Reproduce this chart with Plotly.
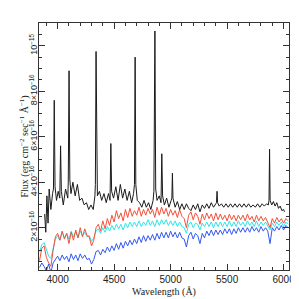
import plotly.graph_objects as go

# common wavelength grid (Angstrom) for the three continuum spectra
wl = list(range(3840, 6041, 20))

# fluxes in units of 1e-16 erg cm^-2 s^-1 A^-1
red_flux = [
    0.55, 1.1, 1.2, 0.7, 0.45, 0.3, 1.0, 1.6, 1.75, 1.45,
    1.85, 1.5, 1.75, 1.3, 1.8, 1.45, 1.9, 1.55, 2.0, 1.6,
    1.95, 1.65, 1.6, 1.2, 1.45, 2.0, 2.15, 1.85, 2.3, 1.95,
    2.4, 2.1, 2.55, 2.25, 2.75, 2.4, 2.65, 2.3, 2.8, 2.45,
    2.85, 2.5, 2.75, 2.55, 2.9, 2.5, 2.8, 2.55, 2.85, 2.6,
    2.8, 2.45, 2.9, 2.55, 2.9, 2.6, 2.85, 2.5, 2.8, 2.55,
    2.75, 2.45, 2.8, 2.5, 2.4, 2.0, 2.55, 2.7, 2.35, 2.65,
    2.5, 2.15, 2.6, 2.35, 2.65, 2.4, 2.6, 2.3, 2.65, 2.35,
    2.6, 2.35, 2.55, 2.3, 2.6, 2.35, 2.55, 2.3, 2.55, 2.35,
    2.55, 2.3, 2.6, 2.35, 2.5, 2.25, 2.55, 2.3, 2.5, 2.3,
    2.45, 2.25, 2.0, 2.4, 2.2, 2.45, 2.25, 2.4, 2.2, 2.4,
    2.3,
]

cyan_flux = [
    0.95, 1.25, 1.35, 1.0, 0.75, 0.65, 1.15, 1.5, 1.65, 1.45,
    1.8, 1.55, 1.75, 1.5, 1.85, 1.6, 1.8, 1.55, 1.85, 1.65,
    1.8, 1.6, 1.65, 1.4, 1.55, 1.85, 1.95, 1.75, 2.0, 1.8,
    2.05, 1.85, 2.1, 1.9, 2.15, 1.95, 2.15, 1.9, 2.2, 2.0,
    2.25, 2.05, 2.25, 2.05, 2.3, 2.05, 2.25, 2.1, 2.35, 2.1,
    2.3, 2.05, 2.35, 2.1, 2.35, 2.15, 2.35, 2.1, 2.3, 2.1,
    2.3, 2.05, 2.25, 2.05, 2.0, 1.75, 2.15, 2.25, 2.0, 2.2,
    2.15, 1.9, 2.2, 2.05, 2.25, 2.05, 2.25, 2.0, 2.25, 2.05,
    2.25, 2.05, 2.25, 2.05, 2.3, 2.05, 2.25, 2.05, 2.3, 2.1,
    2.25, 2.05, 2.3, 2.1, 2.25, 2.05, 2.3, 2.05, 2.25, 2.1,
    2.25, 2.05, 1.9, 2.2, 2.05, 2.25, 2.1, 2.25, 2.05, 2.25,
    2.15,
]

blue_flux = [
    0.25, 0.45, 0.3, 0.1, 0.4, 0.03, 0.45, 0.6, 0.75, 0.55,
    0.8, 0.6, 0.75, 0.5, 0.85, 0.6, 0.8, 0.55, 0.85, 0.65,
    0.8, 0.6, 0.65, 0.4, 0.6, 0.95, 1.0, 0.8, 1.05, 0.9,
    1.15, 0.95, 1.2, 1.0, 1.3, 1.05, 1.35, 1.1, 1.4, 1.2,
    1.45, 1.25, 1.5, 1.3, 1.6, 1.35, 1.65, 1.4, 1.65, 1.45,
    1.7, 1.45, 1.75, 1.5, 1.8, 1.55, 1.8, 1.55, 1.85, 1.6,
    1.8, 1.55, 1.8, 1.55, 1.5, 1.15, 1.65, 1.8, 1.5, 1.75,
    1.65, 1.3, 1.75, 1.55, 1.85, 1.65, 1.9, 1.65, 1.9, 1.7,
    1.9, 1.7, 1.95, 1.75, 1.95, 1.7, 1.95, 1.75, 2.0, 1.8,
    2.0, 1.8, 2.0, 1.8, 2.05, 1.85, 2.0, 1.8, 2.05, 1.85,
    2.0, 1.85, 1.3, 2.0, 1.85, 2.05, 1.9, 2.1, 1.9, 2.1,
    2.0,
]

# emission-line spectrum (own wavelength sampling)
black_wl = [
    3885, 3895, 3905, 3915, 3925, 3940, 3955, 3963, 3970, 3977,
    3990, 4005, 4019, 4026, 4033, 4050, 4070, 4090, 4094, 4101,
    4108, 4118, 4135, 4155, 4175, 4195, 4215, 4235, 4255, 4275,
    4295, 4315, 4330, 4334, 4340, 4346, 4352, 4370, 4390, 4410,
    4430, 4450, 4464, 4471, 4478, 4495, 4515, 4535, 4555, 4575,
    4595, 4615, 4635, 4655, 4672, 4680, 4686, 4692, 4705, 4725,
    4745, 4765, 4785, 4805, 4825, 4845, 4852, 4861, 4868, 4880,
    4900, 4915, 4922, 4929, 4945, 4965, 4985, 5005, 5011, 5016,
    5021, 5040, 5060, 5080, 5100, 5120, 5140, 5160, 5180, 5200,
    5220, 5240, 5260, 5280, 5300, 5320, 5340, 5360, 5380, 5400,
    5406, 5411, 5416, 5430, 5450, 5470, 5490, 5510, 5530, 5550,
    5570, 5590, 5610, 5630, 5650, 5670, 5690, 5710, 5730, 5750,
    5770, 5790, 5810, 5830, 5850, 5865, 5871, 5876, 5881, 5895,
    5910, 5925, 5940, 5955, 5970, 5985, 6000, 6008,
]
black_flux = [
    2.6, 1.8, 3.4, 2.2, 3.7, 2.8, 3.5, 3.7, 7.6, 3.8,
    3.2, 3.6, 3.3, 5.6, 3.6, 3.0, 3.7, 3.3, 4.0, 8.9,
    4.1, 3.5, 4.0, 3.4, 3.9, 3.2, 3.3, 3.0, 3.1, 2.8,
    3.0, 2.8, 3.4, 3.9, 9.75, 4.0, 3.4, 3.6, 3.2, 3.5,
    3.1, 3.5, 3.2, 5.7, 3.6, 3.3, 3.8, 3.2, 3.9, 3.3,
    3.7, 3.2, 3.6, 3.1, 3.5, 3.9, 9.5, 3.9, 3.2, 3.1,
    2.9, 3.2, 2.9, 3.1, 2.8, 3.2, 3.6, 10.65, 3.7, 3.2,
    3.4, 3.1, 5.25, 3.4, 3.0, 3.3, 2.9, 3.2, 3.3, 4.4,
    3.3, 2.9, 3.15, 2.8, 3.05, 2.8, 3.05, 2.85, 2.75, 3.0,
    2.8, 3.05, 2.7, 3.0, 2.85, 3.05, 2.85, 3.1, 2.9, 3.05,
    3.1, 3.6, 3.1, 2.95, 3.05, 2.9, 3.05, 2.9, 3.05, 2.9,
    3.05, 2.9, 3.05, 2.9, 3.05, 2.9, 3.05, 2.9, 3.0, 2.9,
    3.05, 2.9, 3.05, 2.95, 3.05, 3.0, 3.2, 5.45, 3.2, 3.0,
    3.15, 2.95, 3.1, 2.85, 2.95, 2.75, 2.8, 2.7,
]

y_tickvals = [2, 4, 6, 8, 10]
y_ticktext = ["2×10<sup>−16</sup>", "4×10<sup>−16</sup>", "6×10<sup>−16</sup>",
              "8×10<sup>−16</sup>", "10<sup>−15</sup>"]
x_tickvals = [4000, 4500, 5000, 5500, 6000]

fig = go.Figure()
for flux, color in [(cyan_flux, "#2ee6e6"), (red_flux, "#f5503a"), (blue_flux, "#3358f2")]:
    fig.add_trace(go.Scatter(x=wl, y=flux, mode="lines",
                             line=dict(color=color, width=1), hoverinfo="skip"))
fig.add_trace(go.Scatter(x=black_wl, y=black_flux, mode="lines",
                         line=dict(color="#1a1a1a", width=1), hoverinfo="skip"))

xtickfont = dict(family="Liberation Sans, Arial, sans-serif", size=10, color="#222")
ytickfont = dict(family="Liberation Sans, Arial, sans-serif", size=9, color="#222")
fig.update_layout(
    width=299, height=299,
    margin=dict(l=31, r=16, t=15, b=33),
    paper_bgcolor="white", plot_bgcolor="white",
    showlegend=False,
    xaxis=dict(range=[3835, 6048], tickvals=x_tickvals, ticks="inside", ticklen=6,
               tickcolor="#333", showline=True, linecolor="#333", linewidth=1,
               mirror="allticks", showgrid=False, zeroline=False, tickfont=xtickfont,
               minor=dict(dtick=100, ticks="inside", ticklen=3, tickcolor="#333", showgrid=False),
               title=dict(text="Wavelength (Å)", standoff=3,
                          font=dict(family="Liberation Serif, serif", size=10, color="#222"))),
    yaxis=dict(range=[0.14, 11.0], tickvals=y_tickvals, ticktext=y_ticktext,
               tickangle=-90, ticks="inside", ticklen=6, tickcolor="#333",
               ticklabelstandoff=-3,
               showline=True, linecolor="#333", linewidth=1, mirror="allticks",
               showgrid=False, zeroline=False, tickfont=ytickfont,
               minor=dict(dtick=0.5, ticks="inside", ticklen=3, tickcolor="#333", showgrid=False)),
    annotations=[dict(text="Flux (erg cm<sup>−2</sup> sec<sup>−1</sup> Å<sup>−1</sup>)",
                      xref="paper", yref="paper", x=-0.06, y=0.5, xanchor="center",
                      yanchor="middle", textangle=-90, showarrow=False,
                      font=dict(family="Liberation Serif, serif", size=10, color="#222"))],
)
fig.write_html("out.html")
